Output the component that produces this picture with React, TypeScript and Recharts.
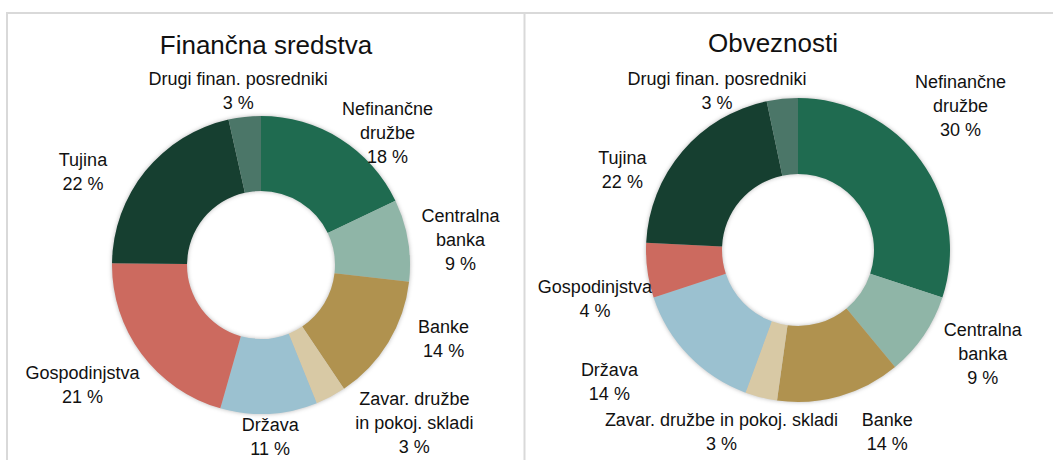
import React from 'react';
import { PieChart, Pie, Cell } from 'recharts';

// ---- data ----
const categories = [
  'Nefinančne družbe',
  'Centralna banka',
  'Banke',
  'Zavar. družbe in pokoj. skladi',
  'Država',
  'Gospodinjstva',
  'Tujina',
  'Drugi finan. posredniki',
];
const assetShares = [17.9, 8.9, 13.8, 3.3, 10.5, 20.8, 21.3, 3.5];
const liabilityShares = [30.0, 8.9, 13.2, 3.4, 14.3, 5.8, 20.9, 3.3];
const assetPctLabels = [18, 9, 14, 3, 11, 21, 22, 3];
const liabilityPctLabels = [30, 9, 14, 3, 14, 4, 22, 3];
const assetLabelLines = [
  ['Nefinančne', 'družbe'],
  ['Centralna', 'banka'],
  ['Banke'],
  ['Zavar. družbe', 'in pokoj. skladi'],
  ['Država'],
  ['Gospodinjstva'],
  ['Tujina'],
  ['Drugi finan. posredniki'],
];
const liabilityLabelLines = [
  ['Nefinančne', 'družbe'],
  ['Centralna', 'banka'],
  ['Banke'],
  ['Zavar. družbe in pokoj. skladi'],
  ['Država'],
  ['Gospodinjstva'],
  ['Tujina'],
  ['Drugi finan. posredniki'],
];
const titles = ['Finančna sredstva', 'Obveznosti'];

// ---- styles / layout ----
const colors = ['#1f6b50', '#8fb5a7', '#b0924f', '#d8c9a5', '#9bc1d0', '#cc6a5f', '#163f30', '#4b7668'];
const FONT = "'Liberation Sans', Arial, sans-serif";
// [radial gap beyond outer radius, clockwise angle shift from slice middle]
const assetLabelLayout = [
  [34, 11.5], [52, 2.4], [48, -9.3], [71, -16.3], [23, 0], [66, 2.8], [52, -11.4], [26, -1.2],
];
const liabilityLabelLayout = [
  [65, -5.6], [60, -4.9], [51, -10.2], [45, 8.8], [78, 9.1], [57, -5.9], [41, -15.9], [26, -21.1],
];

const assetData = categories.map((name, i) => ({ name, value: assetShares[i] }));
const liabilityData = categories.map((name, i) => ({ name, value: liabilityShares[i] }));

const RAD = Math.PI / 180;

function makeLabel(lines: string[][], pcts: number[], layout: number[][]) {
  return (props: any) => {
    const { cx, cy, midAngle, outerRadius, index } = props;
    const [gap, shift] = layout[index];
    const a = midAngle - shift;
    const r = outerRadius + gap;
    const x = cx + r * Math.cos(-a * RAD);
    const y = cy + r * Math.sin(-a * RAD);
    const textLines = [...lines[index], `${pcts[index]} %`];
    const lh = 24;
    const y0 = y - ((textLines.length - 1) * lh) / 2;
    return (
      <text
        key={`l-${index}`}
        x={x}
        y={y0}
        textAnchor="middle"
        dominantBaseline="central"
        fill="#111"
        fontSize={18}
        fontFamily={FONT}
      >
        {textLines.map((t, i) => (
          <tspan key={i} x={x} dy={i === 0 ? 0 : lh}>
            {t}
          </tspan>
        ))}
      </text>
    );
  };
}

const css = `g:has(> g.recharts-pie-sector) { filter: drop-shadow(0px 0.5px 2px rgba(0,0,0,0.28)); }`;

export default function App() {
  return (
    <div style={{ position: 'absolute', left: 0, top: 0, width: 1053, height: 460, background: '#fff' }}>
      <style>{css}</style>
      <svg
        width={1053}
        height={460}
        style={{ position: 'absolute', left: 0, top: 0 }}
      >
        <line x1={6} y1={13} x2={1053} y2={13} stroke="#d9d9d9" strokeWidth={2} />
        <line x1={7} y1={12} x2={7} y2={460} stroke="#d9d9d9" strokeWidth={2} />
        <line x1={524.5} y1={12} x2={524.5} y2={460} stroke="#d9d9d9" strokeWidth={2} />
        <text x={266} y={45} textAnchor="middle" dominantBaseline="central" fontSize={26} fontFamily={FONT} fill="#111">
          {titles[0]}
        </text>
        <text x={773} y={43} textAnchor="middle" dominantBaseline="central" fontSize={26} fontFamily={FONT} fill="#111">
          {titles[1]}
        </text>
      </svg>
      <div style={{ position: 'absolute', left: 0, top: 0 }}>
        <PieChart width={1053} height={460} margin={{ top: 0, right: 0, bottom: 0, left: 0 }}>
          <Pie
            data={assetData}
            dataKey="value"
            nameKey="name"
            cx={261}
            cy={265}
            innerRadius={74}
            outerRadius={149}
            startAngle={90}
            endAngle={-270}
            stroke="none"
            isAnimationActive={false}
            labelLine={false}
            label={makeLabel(assetLabelLines, assetPctLabels, assetLabelLayout)}
          >
            {assetData.map((d, i) => (
              <Cell key={d.name} fill={colors[i]} />
            ))}
          </Pie>
          <Pie
            data={liabilityData}
            dataKey="value"
            nameKey="name"
            cx={798}
            cy={250}
            innerRadius={76}
            outerRadius={152}
            startAngle={90}
            endAngle={-270}
            stroke="none"
            isAnimationActive={false}
            labelLine={false}
            label={makeLabel(liabilityLabelLines, liabilityPctLabels, liabilityLabelLayout)}
          >
            {liabilityData.map((d, i) => (
              <Cell key={d.name} fill={colors[i]} />
            ))}
          </Pie>
        </PieChart>
      </div>
    </div>
  );
}
